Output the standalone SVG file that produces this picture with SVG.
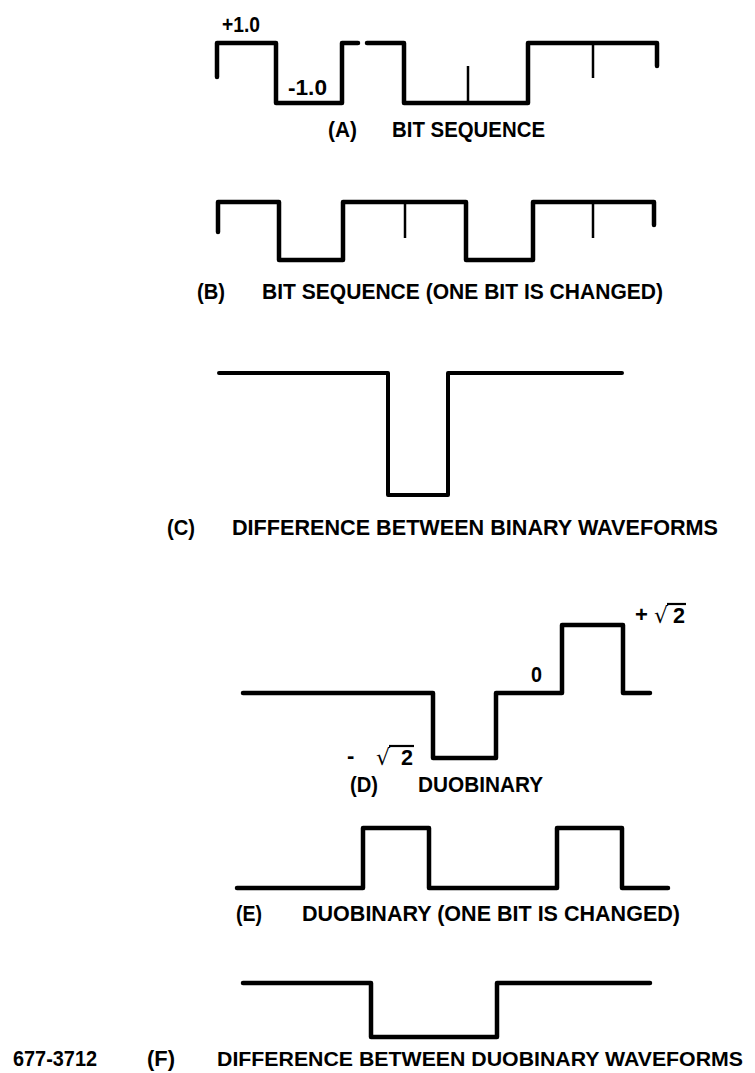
<svg xmlns="http://www.w3.org/2000/svg" width="755" height="1073" viewBox="0 0 755 1073">
<style>
.w{fill:none;stroke:#000;stroke-width:4.5;stroke-linejoin:round;stroke-linecap:round}
.t{fill:none;stroke:#000;stroke-width:2.5}
.l{font-family:"Liberation Sans",Arial,sans-serif;font-weight:bold;font-size:22px;fill:#000}
.r{font-family:"DejaVu Sans","Liberation Sans",sans-serif;font-size:22px;fill:#000}
.v{stroke:#000;stroke-width:2.2}
</style>
<rect width="755" height="1073" fill="#fff"/>
<g id="panelA">
<path class="w" d="M217,77 V43 H276 V103 H342 V43 H358 M367,43 H404 V103 H528 V43 H657 V66"/>
<line class="t" x1="468" y1="66" x2="468" y2="103"/>
<line class="t" x1="593" y1="43" x2="593" y2="78"/>
<text class="l" x="222" y="32" textLength="38" lengthAdjust="spacingAndGlyphs">+1.0</text>
<text class="l" x="288" y="95" textLength="39" lengthAdjust="spacingAndGlyphs">-1.0</text>
<text class="l" x="328" y="137" textLength="29" lengthAdjust="spacingAndGlyphs">(A)</text>
<text class="l" x="392" y="137" textLength="153" lengthAdjust="spacingAndGlyphs">BIT SEQUENCE</text>
</g>
<g id="panelB">
<path class="w" d="M218,232 V202 H279 V260 H343 V202 H466 V260 H533 V202 H654 V225"/>
<line class="t" x1="405" y1="202" x2="405" y2="238"/>
<line class="t" x1="593" y1="202" x2="593" y2="238"/>
<text class="l" x="197" y="299" textLength="28" lengthAdjust="spacingAndGlyphs">(B)</text>
<text class="l" x="262" y="299" textLength="401" lengthAdjust="spacingAndGlyphs">BIT SEQUENCE (ONE BIT IS CHANGED)</text>
</g>
<g id="panelC">
<path class="w" d="M219,373 H388 V495 H448 V373 H622" style="stroke-width:4"/>
<text class="l" x="167" y="535" textLength="28" lengthAdjust="spacingAndGlyphs">(C)</text>
<text class="l" x="232" y="535" textLength="486" lengthAdjust="spacingAndGlyphs">DIFFERENCE BETWEEN BINARY WAVEFORMS</text>
</g>
<g id="panelD">
<path class="w" d="M243,693 H433 V758 H496 V693 H562 V625 H623 V693 H650"/>
<text class="l" x="635" y="622">+</text>
<text class="r" x="654" y="623">√</text>
<line class="v" x1="667" y1="604" x2="686" y2="604"/>
<text class="l" x="673" y="623" textLength="12" lengthAdjust="spacingAndGlyphs">2</text>
<text class="l" x="531" y="682" textLength="11" lengthAdjust="spacingAndGlyphs">0</text>
<text class="l" x="347" y="763">-</text>
<text class="r" x="376" y="765">√</text>
<line class="v" x1="389" y1="746" x2="414" y2="746"/>
<text class="l" x="401" y="765" textLength="12" lengthAdjust="spacingAndGlyphs">2</text>
<text class="l" x="350" y="792" textLength="28" lengthAdjust="spacingAndGlyphs">(D)</text>
<text class="l" x="418" y="792" textLength="125" lengthAdjust="spacingAndGlyphs">DUOBINARY</text>
</g>
<g id="panelE">
<path class="w" d="M237,888 H363 V828 H429 V888 H557 V828 H622 V888 H668"/>
<text class="l" x="236" y="921" textLength="26" lengthAdjust="spacingAndGlyphs">(E)</text>
<text class="l" x="302" y="921" textLength="378" lengthAdjust="spacingAndGlyphs">DUOBINARY (ONE BIT IS CHANGED)</text>
</g>
<g id="panelF">
<path class="w" d="M243,983 H371 V1037 H497 V983 H650"/>
<text class="l" x="13" y="1066" textLength="84" lengthAdjust="spacingAndGlyphs">677-3712</text>
<text class="l" x="147" y="1066" textLength="28" lengthAdjust="spacingAndGlyphs">(F)</text>
<text class="l" x="217" y="1066" style="font-size:21px" textLength="526" lengthAdjust="spacingAndGlyphs">DIFFERENCE BETWEEN DUOBINARY WAVEFORMS</text>
</g>
</svg>
